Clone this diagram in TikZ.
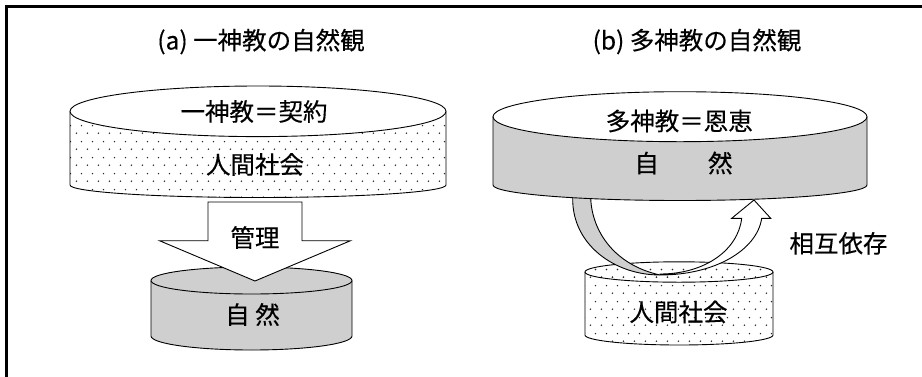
\documentclass[tikz,border=0pt]{standalone}
\usepackage{fontspec}
\setmainfont[FakeBold=0.3]{Noto Sans CJK JP}
\usetikzlibrary{patterns}
\pgfdeclarepatternformonly{sdots}{\pgfqpoint{0pt}{0pt}}{\pgfqpoint{10.5pt}{16pt}}{\pgfqpoint{10.5pt}{16pt}}{%
  \pgfpathcircle{\pgfqpoint{2.6pt}{4pt}}{0.85pt}%
  \pgfpathcircle{\pgfqpoint{7.85pt}{12pt}}{0.85pt}%
  \pgfusepath{fill}}
\definecolor{natgray}{RGB}{208,207,207}
\tikzset{
  outl/.style={draw=black, line width=0.9pt},
  dotfill/.style={pattern=sdots, pattern color=black!85},
  grayfill/.style={fill=natgray},
  whitefill/.style={fill=white},
  txt/.style={inner sep=0pt, font=\fontsize{24.5pt}{27pt}\selectfont},
}
% cx, top y, bottom y, rx, top ry, bottom ry, body style, top style
\newcommand\mycyl[8]{%
  \path[#7] ({#1-#4},#2) -- ({#1-#4},#3) arc[start angle=180,end angle=360,x radius=#4pt,y radius=#6pt] -- ({#1+#4},#2) -- cycle;
  \draw[outl] ({#1-#4},#2) -- ({#1-#4},#3) arc[start angle=180,end angle=360,x radius=#4pt,y radius=#6pt] -- ({#1+#4},#2);
  \path[#8] (#1,#2) ellipse[x radius=#4pt, y radius=#5pt];
  \draw[outl] (#1,#2) ellipse[x radius=#4pt, y radius=#5pt];
}
\begin{document}
\begin{tikzpicture}[x=1pt,y=-1pt]
\useasboundingbox (0,0) rectangle (922,376);
\clip (0,0) rectangle (922,376);
\fill[white] (0,0) rectangle (922,376);
% frame
\draw[line width=2.5pt] (6.5,420) -- (6.5,6.5) -- (960,6.5);

% ===== (a) =====
\node[txt] (ta) at (261,41.5) {(a) 一神教の自然観};
% nature (a)
\mycyl{251.5}{280.5}{336}{100.5}{13.5}{14}{grayfill}{grayfill}
% society top (a)
\mycyl{258}{111.3}{185}{188}{25.3}{12.5}{dotfill}{whitefill}
% management arrow
\draw[outl, fill=white, line join=miter]
  (208,202) -- (302,202) -- (302,240.7) -- (350.5,240.7) -- (255,281)
  -- (159.5,240.7) -- (208,240.7) -- cycle;
\node[txt] (kanri) at (255,237.5) {管理};
\node[txt] (keiyaku) at (254,111.5) {一神教＝契約};
\node[txt] (shakaiA) at (255,164.5) {人間社会};
\node[txt] (shizenA) at (252.5,314.5) {自 然};

% ===== (b) =====
\node[txt] (tb) at (697,41.5) {(b) 多神教の自然観};
% society (b)
\mycyl{679}{272}{335}{94}{10.2}{10}{dotfill}{dotfill}
% curved arrow: white front part
\draw[outl, fill=white, line join=miter]
  (660,275) .. controls (715,275) and (757,250) .. (761.7,218.3)
  -- (770.7,218.3) -- (754,200) -- (731.7,218.3) -- (741.7,218.3)
  .. controls (738,250) and (705,274) .. (660,274) -- cycle;
% curved arrow: gray back part
\draw[outl, fill=natgray, line join=round]
  (572.7,188) -- (572.7,198) .. controls (572,245) and (615,275) .. (660,275)
  .. controls (615,265) and (592,232) .. (590.7,198) -- (590.7,188) -- cycle;
% nature (b)
\mycyl{680}{116.7}{185}{187}{25}{15.5}{grayfill}{whitefill}
\node[txt] (onkei) at (679.3,121) {多神教＝恩恵};
\node[txt] (shizenB) at (683.5,163) {自　　然};
\node[txt] (shakaiB) at (678.5,312) {人間社会};
\node[txt] (sogo) at (838.5,243.3) {相互依存};
\end{tikzpicture}
\end{document}
